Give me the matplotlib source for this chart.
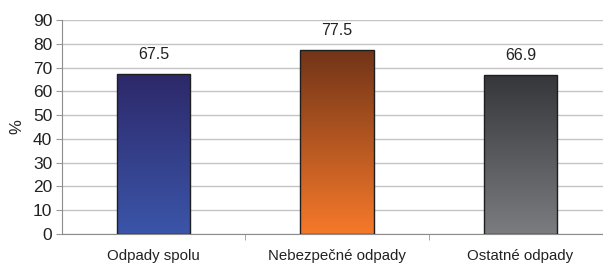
import numpy as np
import matplotlib
matplotlib.use("Agg")
import matplotlib.pyplot as plt
from matplotlib.colors import LinearSegmentedColormap

categories = ["Odpady spolu", "Nebezpečné odpady", "Ostatné odpady"]
values = [67.5, 77.5, 66.9]
labels = ["67.5", "77.5", "66.9"]
# (bottom colour, top colour) of each bar's gradient
bar_colors = [("#3b55a9", "#2d2869"), ("#f6792a", "#713418"), ("#7a7c80", "#34363a")]

plt.rcParams['font.family'] = ['Liberation Sans', 'DejaVu Sans']

fig = plt.figure(figsize=(6.03, 2.68), dpi=100)
ax = fig.add_axes([62 / 603, 1 - 234 / 268, 1 - 62 / 603, 214 / 268])

ax.set_xlim(-0.5, 2.45)
ax.set_ylim(0, 90)
ax.set_yticks(range(0, 91, 10))
ax.yaxis.grid(True, color="#c4c4c4", linewidth=1.0)
ax.set_axisbelow(True)

width = 0.40
for i, (v, (c0, c1)) in enumerate(zip(values, bar_colors)):
    cmap = LinearSegmentedColormap.from_list("g%d" % i, [c0, c1])
    grad = np.linspace(0, 1, 256).reshape(-1, 1)
    x0, x1 = i - width / 2, i + width / 2
    im = ax.imshow(grad, cmap=cmap, origin="lower", aspect="auto",
                   extent=[x0, x1, 0, v], zorder=2)
    rect = plt.Rectangle((x0, 0), width, v, facecolor="none",
                         edgecolor="#1e1e1e", linewidth=1.0, zorder=3)
    ax.add_patch(rect)
    im.set_clip_path(rect)
    ax.text(i, v + 5, labels[i], ha="center", va="bottom", fontsize=11.5,
            color="#222222")

ax.set_xlim(-0.5, 2.45)
ax.set_ylim(0, 90)

ax.set_xticks(range(len(categories)))
ax.set_xticklabels(categories, fontsize=10.8, color="#222222")
ax.set_xticks([0.5, 1.5], minor=True)
ax.tick_params(axis="x", which="major", length=0, pad=11)
ax.tick_params(axis="x", which="minor", length=4, color="#999999")
ax.tick_params(axis="y", length=4, color="#999999", labelsize=12.5, pad=3,
               labelcolor="#222222")

ax.set_ylabel("%", fontsize=12, labelpad=6, color="#222222")

for s in ["top", "right"]:
    ax.spines[s].set_visible(False)
for s in ["left", "bottom"]:
    ax.spines[s].set_color("#8c8c8c")

fig.savefig("out.png", dpi=100)
